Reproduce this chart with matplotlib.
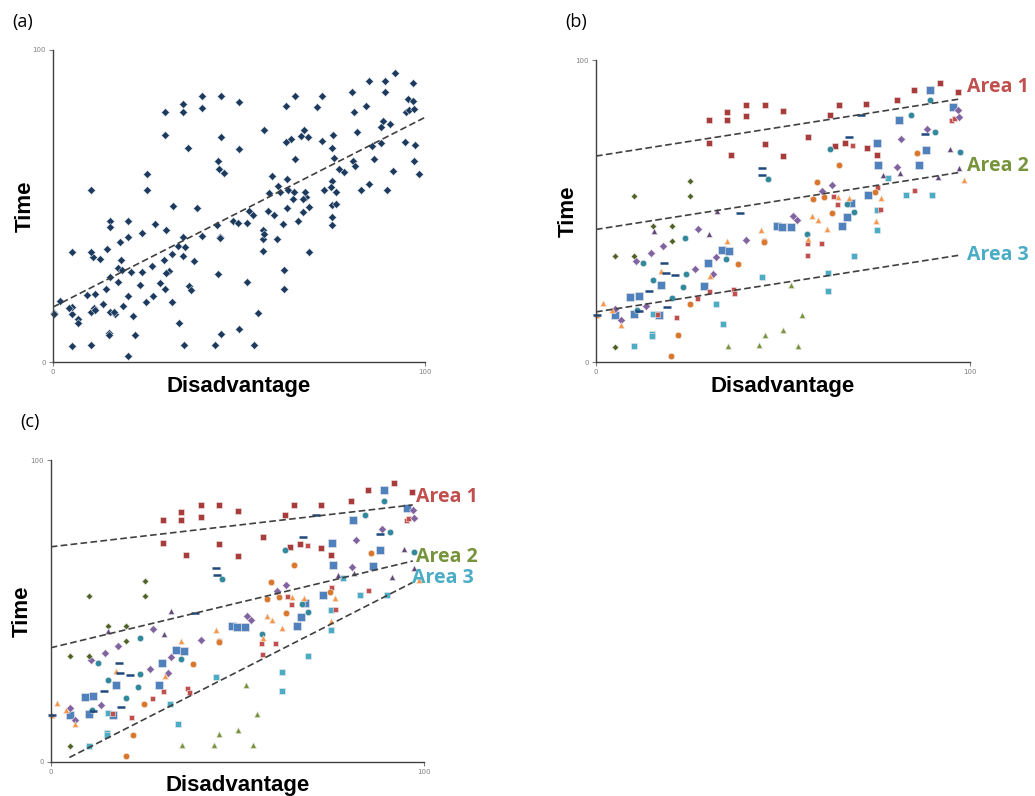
import matplotlib
matplotlib.use("Agg")
import matplotlib.pyplot as plt

# ---- data ----
# dark red squares (Area 1 cluster)
red_big_x = [30.1, 35.0, 35.0, 40.1, 40.1, 45.1, 50.0, 30.1, 45.1, 36.2, 50.0, 56.7,
             62.6, 65.1, 72.3, 80.5, 85.0, 91.9, 96.8, 64.0, 66.7, 72.4, 75.1]
red_big_y = [80.2, 82.7, 80.2, 85.1, 81.3, 85.1, 83.2, 72.6, 72.2, 68.7, 68.2, 74.4,
             81.9, 85.1, 85.3, 86.6, 90.2, 92.5, 89.4, 71.4, 72.4, 70.8, 68.6]
# small red squares
red_small_x = [68.5, 63.3, 64.4, 75.1, 76.0, 85.0, 56.4, 56.5, 60.1, 36.6, 37.0, 30.1,
               27.0, 21.5, 16.3, 95.0, 95.7]
red_small_y = [72.0, 55.0, 52.2, 57.9, 50.7, 57.1, 39.3, 35.6, 39.3, 24.3, 23.0, 23.5,
               21.1, 14.9, 16.0, 80.1, 80.9]
# blue squares
blue_x = [89.3, 95.4, 81.0, 75.2, 75.5, 88.2, 86.3, 72.8, 68.1, 67.1, 65.9, 48.4, 49.8,
          52.1, 33.6, 35.6, 29.9, 28.9, 17.5, 9.1, 11.4, 5.1, 10.2, 16.8]
blue_y = [90.2, 84.3, 80.2, 72.6, 65.4, 70.1, 65.1, 55.2, 52.8, 48.1, 45.1, 45.1, 44.6,
          44.6, 37.2, 36.8, 32.7, 25.3, 25.5, 21.4, 21.7, 15.5, 15.9, 15.5]
# teal circles
teal_x = [89.2, 84.1, 90.7, 97.3, 62.6, 45.9, 56.5, 67.2, 68.9, 34.9, 23.9, 12.6, 15.2,
          24.0, 23.3, 20.2, 11.0]
teal_y = [86.6, 81.9, 76.2, 69.6, 70.4, 60.6, 42.3, 52.2, 49.6, 34.1, 41.2, 32.9, 27.1,
          29.0, 24.8, 21.2, 17.3]
# purple diamonds
purple_x = [96.9, 97.1, 88.6, 81.6, 80.6, 63.0, 60.5, 52.6, 53.7, 40.1, 32.1, 31.3, 26.6,
            27.3, 17.9, 14.6, 10.7, 13.4, 5.1, 6.6]
purple_y = [83.6, 81.0, 77.1, 73.7, 64.5, 58.6, 56.5, 48.3, 47.0, 40.4, 34.7, 29.3, 30.9,
            44.1, 38.5, 36.1, 33.6, 18.7, 17.7, 13.8]
# dark green diamonds
olive_x = [10.2, 25.2, 25.2, 15.2, 20.2, 20.2, 5.1, 10.2, 5.1]
olive_y = [55.1, 60.1, 55.1, 45.1, 45.1, 40.1, 35.1, 35.1, 5.1]
# dark purple triangles
violet_x = [94.6, 97.1, 91.4, 81.3, 76.8, 32.3, 30.3, 15.4]
violet_y = [70.5, 64.3, 61.3, 62.7, 62.0, 50.1, 42.4, 43.4]
# navy dashes
navy_x = [44.3, 44.5, 38.6, 70.9, 67.6, 88.1, 18.3, 18.6, 21.1, 14.3, 18.9, 11.4, 0.4]
navy_y = [64.4, 61.8, 49.3, 81.7, 74.4, 75.4, 32.7, 29.5, 28.7, 23.5, 18.1, 16.8, 15.5]
# orange triangles
otri_x = [98.5, 76.1, 74.9, 67.7, 64.7, 59.3, 57.8, 61.9, 56.8, 44.2, 35.0, 30.5, 17.5,
          1.8, 4.2, 0.4, 6.6]
otri_y = [60.4, 54.4, 46.6, 54.4, 54.6, 47.0, 48.3, 44.2, 40.9, 43.8, 40.1, 28.5, 30.1,
          19.6, 17.3, 15.6, 12.4]
# orange circles
ocirc_x = [85.7, 65.1, 59.0, 58.0, 61.0, 63.0, 74.7, 45.0, 45.0, 38.0, 25.1, 22.0, 20.1]
ocirc_y = [69.2, 65.2, 59.6, 54.1, 54.6, 49.3, 56.2, 40.1, 39.6, 32.5, 19.3, 8.8, 1.9]
# cyan squares
cyan_x = [78.2, 82.8, 89.9, 75.1, 75.1, 68.9, 62.0, 62.0, 44.3, 32.0, 34.0, 15.2, 15.0,
          15.0, 10.2]
cyan_y = [61.0, 55.2, 55.2, 50.2, 43.8, 35.1, 29.6, 23.5, 28.2, 19.2, 12.5, 16.0, 9.4,
          8.7, 5.3]
# green triangles
green_x = [52.2, 55.2, 45.1, 50.1, 35.2, 43.6, 54.1]
green_y = [25.6, 15.7, 9.1, 10.6, 5.4, 5.5, 5.4]

# trend lines: (x0, y0, x1, y1)
trend_a = [0, 17.6, 100, 78.4]
trend_b = {"Area 1": [0, 68.2, 97.3, 87.1],
           "Area 2": [0, 43.9, 97.3, 62.8],
           "Area 3": [0, 16.6, 97.3, 35.4]}
trend_c = {"Area 1": [0, 71.3, 96.9, 85.2],
           "Area 2": [0, 37.8, 96.9, 66.6],
           "Area 3": [5.0, 1.4, 96.9, 59.5]}
area_colors = {"Area 1": "#C0504D", "Area 2": "#77933C", "Area 3": "#4BACC6"}
label_pos_b = {"Area 1": (99.3, 91.0), "Area 2": (99.3, 64.9), "Area 3": (99.3, 35.4)}
label_pos_c = {"Area 1": (97.8, 87.8), "Area 2": (97.8, 67.9), "Area 3": (96.8, 60.9)}

series = [
    (red_big_x, red_big_y, "s", "#A83C3A", 5.0),
    (blue_x, blue_y, "s", "#4F81BD", 5.5),
    (cyan_x, cyan_y, "s", "#4BACC6", 5.0),
    (red_small_x, red_small_y, "s", "#C0504D", 3.6),
    (teal_x, teal_y, "o", "#31899E", 4.6),
    (ocirc_x, ocirc_y, "o", "#D9782D", 4.6),
    (purple_x, purple_y, "D", "#8064A2", 3.6),
    (olive_x, olive_y, "D", "#4F6228", 3.4),
    (violet_x, violet_y, "^", "#5F497A", 4.6),
    (otri_x, otri_y, "^", "#F79646", 4.8),
    (green_x, green_y, "^", "#77933C", 4.6),
]

all_x = sum([s[0] for s in series], []) + navy_x
all_y = sum([s[1] for s in series], []) + navy_y


def style_axes(ax, ylab_pad=-2, xlab_pad=3):
    ax.set_xlim(0, 100)
    ax.set_ylim(0, 100)
    for side in ["top", "right"]:
        ax.spines[side].set_visible(False)
    for side in ["left", "bottom"]:
        ax.spines[side].set_color("#404040")
        ax.spines[side].set_linewidth(1.0)
    ax.set_xticks([0, 100])
    ax.set_yticks([0, 100])
    ax.tick_params(labelsize=5, colors="#808080", length=3, width=0.8, pad=2)
    ax.set_xlabel("Disadvantage", fontsize=16, fontweight="bold",
                  family="Liberation Sans", labelpad=xlab_pad)
    ax.set_ylabel("Time", fontsize=16, fontweight="bold",
                  family="Liberation Sans", labelpad=ylab_pad)


def draw_groups(ax):
    for xs, ys, m, c, ms in series:
        ax.plot(xs, ys, linestyle="none", marker=m, color=c, markersize=ms,
                markeredgecolor="#F0E8E8", markeredgewidth=0.4, clip_on=False)
    ax.plot(navy_x, navy_y, linestyle="none", marker="_", color="#1F497D",
            markersize=6, markeredgewidth=1.8, clip_on=False)


def dashed(ax, seg):
    ax.plot([seg[0], seg[2]], [seg[1], seg[3]], linestyle=(0, (4, 2)),
            color="#404040", linewidth=1.2, zorder=3)


fig = plt.figure(figsize=(10.35, 7.96), dpi=100)

# (a)
ax_a = fig.add_axes([0.0512, 0.5452, 0.3594, 0.392])
ax_a.plot(all_x, all_y, linestyle="none", marker="D", color="#1C3A5E",
          markersize=4.0, markeredgecolor="#DDE3EA", markeredgewidth=0.4, clip_on=False)
dashed(ax_a, trend_a)
style_axes(ax_a, ylab_pad=-2.5, xlab_pad=1)

# (b)
ax_b = fig.add_axes([0.5758, 0.5452, 0.3614, 0.3794])
draw_groups(ax_b)
for name, seg in trend_b.items():
    dashed(ax_b, seg)
    x, y = label_pos_b[name]
    ax_b.text(x, y, name, color=area_colors[name], fontsize=14, fontweight="bold",
              family="Open Sans", va="center", ha="left", clip_on=False)
style_axes(ax_b, ylab_pad=-2, xlab_pad=1)

# (c)
ax_c = fig.add_axes([0.049, 0.0431, 0.361, 0.3786])
draw_groups(ax_c)
for name, seg in trend_c.items():
    dashed(ax_c, seg)
    x, y = label_pos_c[name]
    ax_c.text(x, y, name, color=area_colors[name], fontsize=14, fontweight="bold",
              family="Open Sans", va="center", ha="left", clip_on=False)
style_axes(ax_c, ylab_pad=-1.5, xlab_pad=0)

fig.text(0.012, 0.972, "(a)", fontsize=13, family="Open Sans", va="center")
fig.text(0.546, 0.972, "(b)", fontsize=13, family="Open Sans", va="center")
fig.text(0.020, 0.470, "(c)", fontsize=13, family="Open Sans", va="center")

fig.savefig("out.png", dpi=100)
